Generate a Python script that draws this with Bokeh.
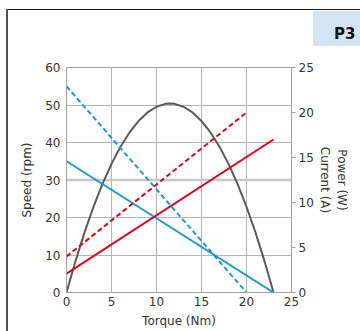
import math
from bokeh.plotting import figure
from bokeh.models import Range1d, LinearAxis, Span, FixedTicker
from bokeh.embed import file_html
from bokeh.resources import INLINE

# ---- data ----
torque_ticks = [0, 5, 10, 15, 20, 25]
speed_ticks = [0, 10, 20, 30, 40, 50, 60]
right_ticks = [0, 5, 10, 15, 20, 25]

speed_torque = [0, 23]
speed_values = [35, 0]
speed2_torque = [0, 20]
speed2_values = [55, 0]

current_torque = [0, 23]
current_values = [2.1, 17]
current2_torque = [0, 20]
current2_values = [4, 20]

power_torque = [0, 1, 2, 3, 4, 5, 6, 7, 8, 9, 10, 11, 11.5, 12, 13, 14, 15, 16, 17, 18, 19, 20, 21, 22, 23]
power_values = [0, 3.49, 6.67, 9.53, 12.07, 14.29, 16.2, 17.78, 19.05, 20.01, 20.64, 20.96, 21.0,
                20.96, 20.64, 20.01, 19.05, 17.78, 16.2, 14.29, 12.07, 9.53, 6.67, 3.49, 0]

BLUE = "#1a9ad8"
RED = "#e2001a"
GREY = "#5a5a5a"
GRID = "#b4b4b4"
TXT = "#333333"
FONT = "DejaVu Sans"

p = figure(width=360, height=331, output_backend="svg", toolbar_location=None,
           x_range=Range1d(0, 25), y_range=Range1d(0, 60),
           min_border_left=66, min_border_right=69, min_border_top=66, min_border_bottom=39)
p.extra_y_ranges = {"r": Range1d(0, 25)}

p.outline_line_color = "#a0a0a0"
p.background_fill_color = "white"
p.border_fill_alpha = 0
# page frame (top rule, left rule) and the light-blue tab behind the "P3" title
p.styles = {
    "background": (
        "linear-gradient(#1a1a1a,#1a1a1a) 8px 9px / 352px 1px no-repeat,"
        "linear-gradient(#505050,#505050) 6px 9px / 2px 322px no-repeat,"
        "linear-gradient(#d3e4f5,#d3e4f5) 313px 11px / 47px 35px no-repeat,"
        "white"
    )
}

p.title.text = "P3"
p.title.align = "right"
p.title.offset = -64
p.title.text_font = FONT
p.title.text_font_size = "15px"
p.title.text_font_style = "bold"
p.title.text_color = "#111111"
p.title.vertical_align = "middle"
p.title.standoff = 47

p.xgrid.ticker = FixedTicker(ticks=torque_ticks)
p.ygrid.ticker = FixedTicker(ticks=speed_ticks)
p.xgrid.grid_line_color = GRID
p.ygrid.grid_line_color = GRID
p.add_layout(Span(location=30, dimension="width", line_color="#c8c8c8", line_width=2.5, level="underlay"))

def style_axis(ax):
    ax.axis_line_color = "#a0a0a0"
    ax.minor_tick_line_color = None
    ax.minor_tick_out = 0
    ax.minor_tick_in = 0
    ax.major_tick_in = 0
    ax.major_label_text_font = FONT
    ax.major_label_text_font_size = "12px"
    ax.major_label_text_color = TXT
    ax.axis_label_text_font = FONT
    ax.axis_label_text_font_size = "12px"
    ax.axis_label_text_font_style = "normal"
    ax.axis_label_text_color = TXT

for ax in (p.xaxis[0], p.yaxis[0]):
    style_axis(ax)
    ax.major_tick_line_color = None
    ax.major_tick_out = 0

p.xaxis.ticker = FixedTicker(ticks=torque_ticks)
p.yaxis.ticker = FixedTicker(ticks=speed_ticks)
p.xaxis.major_label_standoff = 4
p.yaxis.major_label_standoff = 6
p.xaxis.axis_label = "Torque (Nm)"
p.xaxis.axis_label_standoff = 5
p.yaxis.axis_label = "Speed (rpm)"
p.yaxis.axis_label_standoff = 8

rax = LinearAxis(y_range_name="r", ticker=FixedTicker(ticks=right_ticks))
style_axis(rax)
rax.major_tick_line_color = "#a0a0a0"
rax.major_tick_out = 4
rax.major_label_standoff = 3
# default (parallel) orientation on the right side; first line ends up outermost
rax.axis_label = "Power (W)\nCurrent (A)"
rax.axis_label_standoff = 1
p.add_layout(rax, "right")

# ---- series ----
p.line(power_torque, power_values, y_range_name="r", line_color=GREY, line_width=2)
p.line(speed2_torque, speed2_values, line_color=BLUE, line_width=2, line_dash="5 3")
p.line(speed_torque, speed_values, line_color=BLUE, line_width=2)
p.line(current2_torque, current2_values, y_range_name="r", line_color=RED, line_width=2, line_dash="5 3")
p.line(current_torque, current_values, y_range_name="r", line_color=RED, line_width=2)

open("out.html", "w").write(file_html(p, INLINE))
